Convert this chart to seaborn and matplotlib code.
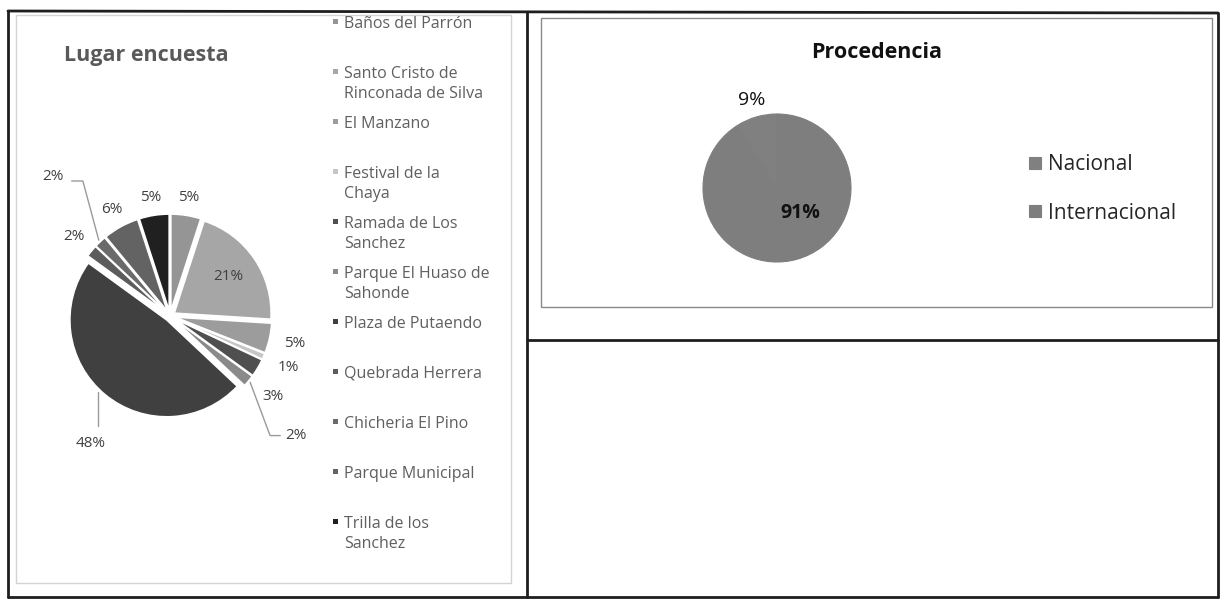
import numpy as np
import matplotlib.pyplot as plt
import seaborn as sns
from matplotlib.lines import Line2D
from matplotlib.patches import Rectangle

# --- ESTILO ---
sns.set_theme(style="white")
plt.rcParams['font.family'] = ['Open Sans', 'DejaVu Sans']

# --- DATOS ---
lugares = ["Baños del Parrón", "Santo Cristo de\nRinconada de Silva", "El Manzano",
           "Festival de la\nChaya", "Ramada de Los\nSanchez", "Parque El Huaso de\nSahonde",
           "Plaza de Putaendo", "Quebrada Herrera", "Chicheria El Pino",
           "Parque Municipal", "Trilla de los\nSanchez"]
lugar_pct = [5, 21, 5, 1, 3, 2, 48, 2, 2, 6, 5]
lugar_grises = ["#959595", "#a6a6a6", "#9c9c9c", "#c6c6c6", "#4f4f4f", "#8a8a8a",
                "#404040", "#5c5c5c", "#6a6a6a", "#636363", "#202020"]

procedencia = ["Nacional", "Internacional"]
procedencia_pct = [9, 91]
procedencia_grises = ["#808080", "#7e7e7e"]

# posicion de etiquetas (distancia radial y giro en grados)
lugar_dist = [1.18, 0.69, 1.25, 1.26, 1.28, 1.7, 1.47, 1.22, 1.78, 1.19, 1.18]
lugar_giro = [0, 0, 0, 0, -7.4, -4, 7.6, 0, -3.2, 0, 0]
proc_dist = [1.24, 0.46]
proc_giro = [0, 26]

W, H = 1220, 600
fig = plt.figure(figsize=(12.2, 6), dpi=100)


def fx(px):
    return px / W


def fy(py):
    return 1 - py / H


# --- TABLA (bordes del documento) ---
borde = dict(color="#1e1e1e", lw=2, transform=fig.transFigure)
for (x0, y0, x1, y1) in [(8, 11, 1218, 13), (8, 597, 1218, 597), (8, 11, 8, 597),
                         (1218, 13, 1218, 597), (527, 12, 527, 597), (527, 340, 1218, 340)]:
    fig.add_artist(Line2D([fx(x0), fx(x1)], [fy(y0), fy(y1)], **borde))

# marcos de los graficos
fig.add_artist(Rectangle((fx(16), fy(583)), (511 - 16) / W, (583 - 15) / H,
                         transform=fig.transFigure, fill=False, ec="#d4d4d4", lw=1))
fig.add_artist(Rectangle((fx(541), fy(307)), (1212 - 541) / W, (307 - 18) / H,
                         transform=fig.transFigure, fill=False, ec="#8a8a8a", lw=1))

# --- GRAFICO 1: Lugar encuesta ---
cx, cy, r = 170, 316, 102
ax1 = fig.add_axes([fx(cx - r), fy(cy + r), 2 * r / W, 2 * r / H])
wedges, _ = ax1.pie(lugar_pct, colors=lugar_grises, startangle=90, counterclock=False,
                    radius=0.95, explode=[0.05] * len(lugar_pct),
                    wedgeprops=dict(edgecolor="white", linewidth=1.2))
ax1.set_xlim(-1, 1)
ax1.set_ylim(-1, 1)

pos = []
for w, pct, d, g in zip(wedges, lugar_pct, lugar_dist, lugar_giro):
    ang = np.deg2rad((w.theta1 + w.theta2) / 2 + g)
    lx, ly = d * np.cos(ang), d * np.sin(ang)
    pos.append((lx, ly))
    ax1.text(lx, ly, f"{pct}%", ha="center", va="center", fontsize=11, color="#404040")


def borde_pie(i, rr=1.02):
    a = np.deg2rad((wedges[i].theta1 + wedges[i].theta2) / 2)
    return rr * np.cos(a), rr * np.sin(a)


guia = dict(color="#9a9a9a", lw=1, clip_on=False)
# Parque El Huaso
lx, ly = pos[5]
ex, ey = borde_pie(5)
ax1.plot([ex, lx - 0.25, lx - 0.15], [ey, ly, ly], **guia)
# Plaza de Putaendo
lx, ly = pos[6]
ax1.plot([lx + 0.07, lx + 0.07], [ly + 0.17, ly + 0.5], **guia)
# Chicheria El Pino
lx, ly = pos[8]
ex, ey = borde_pie(8)
ax1.plot([lx + 0.18, lx + 0.29, ex], [ly - 0.04, ly - 0.04, ey], **guia)

fig.text(fx(64), fy(55), "Lugar encuesta", fontsize=15.5, fontweight="bold",
         color="#595959", ha="left", va="center")

# leyenda (casillas de altura fija, como en el original)
for i, (nombre, col) in enumerate(zip(lugares, lugar_grises)):
    yy = 21 + 50 * i
    fig.add_artist(Rectangle((fx(333), fy(yy + 2.5)), 5 / W, 5 / H,
                             transform=fig.transFigure, fc=col, ec="none"))
    fig.text(fx(344), fy(yy - 5), nombre, fontsize=11.5, color="#5f5f5f",
             ha="left", va="top", linespacing=1.35)

# --- GRAFICO 2: Procedencia ---
cx2, cy2, r2 = 777, 188, 74
ax2 = fig.add_axes([fx(cx2 - r2), fy(cy2 + r2), 2 * r2 / W, 2 * r2 / H])
w2, _ = ax2.pie(procedencia_pct, colors=procedencia_grises,
                startangle=90 + 360 * procedencia_pct[0] / 100, counterclock=False,
                wedgeprops=dict(linewidth=0.8))
for w in w2:
    w.set_edgecolor(w.get_facecolor())
ax2.set_xlim(-1, 1)
ax2.set_ylim(-1, 1)
for w, pct, d, g, peso in zip(w2, procedencia_pct, proc_dist, proc_giro, ["normal", "bold"]):
    ang = np.deg2rad((w.theta1 + w.theta2) / 2 + g)
    ax2.text(d * np.cos(ang), d * np.sin(ang), f"{pct}%", ha="center", va="center",
             fontsize=14, fontweight=peso, color="#111111")

ax2.legend(w2, procedencia, loc="center left", bbox_to_anchor=(fx(1019), fy(189)),
           bbox_transform=fig.transFigure, frameon=False,
           handlelength=0.55, handleheight=0.55, handletextpad=0.35, labelspacing=1.3,
           borderpad=0, prop=dict(size=15))

fig.text(fx(877), fy(52), "Procedencia", fontsize=15.5, fontweight="bold", color="#111111",
         ha="center", va="center")

plt.savefig("out.png", dpi=100, facecolor="white")
